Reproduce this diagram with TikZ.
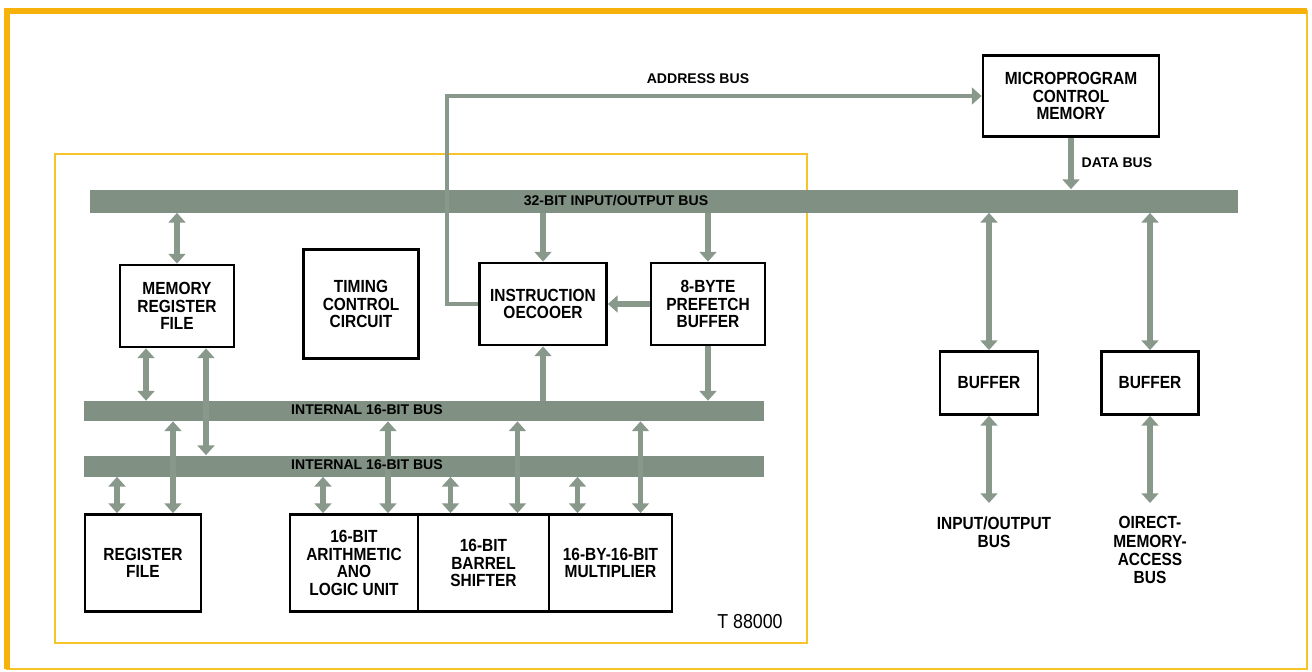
\documentclass[tikz,border=0pt]{standalone}
\usepackage{fontspec}
\setmainfont{Liberation Sans}
\newfontfamily\boxfont{Liberation Sans}[FakeStretch=0.88]
\usetikzlibrary{arrows.meta,calc}
\definecolor{busgray}{RGB}{128,144,130}
\definecolor{arrgray}{RGB}{136,152,138}
\definecolor{frameorange}{RGB}{246,178,10}
\definecolor{chipyellow}{RGB}{246,196,40}
\tikzset{
  block/.style={draw, line width=1.6pt, fill=white, align=center, inner sep=0pt,
    font=\boxfont\bfseries\fontsize{10}{10}\selectfont},
  bus/.style={fill=busgray, inner sep=0pt, minimum height=4mm},
  buslabel/.style={font=\bfseries\fontsize{8}{9}\selectfont},
  note/.style={align=center, font=\boxfont\bfseries\fontsize{10}{10.3}\selectfont},
  dbl/.style={draw=arrgray, line width=3.2pt,
    {Triangle[width=9.5pt,length=5.5pt]}-{Triangle[width=9.5pt,length=5.5pt]}},
  sgl/.style={draw=arrgray, line width=3.2pt, -{Triangle[width=9.5pt,length=5.5pt]}},
}
\begin{document}
\begin{tikzpicture}[x=0.2mm,y=-0.2mm]
\useasboundingbox (0,0) rectangle (1312,672);
\draw[chipyellow, line width=0.5mm] (7,11) rectangle (1307,669);
\draw[frameorange, line width=1.3mm] (7,669) -- (7,11) -- (1307,11);
\draw[chipyellow, line width=0.5mm] (55,154) rectangle (807,643);

% buses
\node[bus, minimum width=229.6mm, minimum height=4.6mm] (iobus) at (664,201) {};
\node[bus, minimum width=136mm] (ibus1) at (424,411) {};
\node[bus, minimum width=136mm, minimum height=4.2mm] (ibus2) at (424,466) {};

% blocks
\node[block, minimum width=22.8mm, minimum height=16.4mm] (mrf) at (177,306) {MEMORY\\REGISTER\\FILE};
\node[block, minimum width=23mm, minimum height=21.8mm] (tcc) at (361,304) {TIMING\\CONTROL\\CIRCUIT};
\node[block, minimum width=25.4mm, minimum height=16.4mm] (idec) at (543,304) {INSTRUCTION\\OECOOER};
\node[block, minimum width=22.8mm, minimum height=16.4mm] (pfb) at (708,304) {8-BYTE\\PREFETCH\\BUFFER};
\node[block, minimum width=35.2mm, minimum height=16.2mm] (mcm) at (1071,96) {MICROPROGRAM\\CONTROL\\MEMORY};
\node[block, minimum width=19.6mm, minimum height=12.6mm] (buf1) at (989,383) {BUFFER};
\node[block, minimum width=19.4mm, minimum height=12.6mm] (buf2) at (1150,383) {BUFFER};
\node[block, minimum width=23.2mm, minimum height=19.4mm] (rf) at (143,563) {REGISTER\\FILE};
\node[block, minimum width=25.6mm, minimum height=19.4mm] (alu) at (354,563) {16-BIT\\ARITHMETIC\\ANO\\LOGIC UNIT};
\node[block, minimum width=26.2mm, minimum height=19.4mm] (bsh) at (483.5,563) {16-BIT\\BARREL\\SHIFTER};
\node[block, minimum width=24.6mm, minimum height=19.4mm] (mul) at (610.5,563) {16-BY-16-BIT\\MULTIPLIER};

\coordinate (ioend) at (989,503);
\coordinate (dmaend) at (1150,503);

% connectors
\draw[sgl, line width=2.6pt] (idec.west) -- ++(-31,0) |- (mcm.west);
\draw[sgl] (mcm.south) -- (mcm.south |- iobus.north);
\draw[dbl] (iobus.south -| mrf.north) -- (mrf.north);
\path (mrf.south) ++(-31,0) coordinate (mrfl) (mrf.south) ++(29,0) coordinate (mrfr);
\draw[dbl] (mrfl) -- (mrfl |- ibus1.north);
\draw[dbl] (mrfr) -- (mrfr |- ibus2.north);
\draw[sgl] (iobus.south -| idec.north) -- (idec.north);
\draw[sgl] (idec.south |- ibus1.north) -- (idec.south);
\draw[sgl] (iobus.south -| pfb.north) -- (pfb.north);
\draw[sgl] (pfb.south) -- (pfb.south |- ibus1.north);
\draw[sgl] (pfb.west) -- (idec.east);
\foreach \b/\l/\r in {rf/-26/30, alu/-31/34, bsh/-33/34, mul/-33/30}{
  \path (\b.north) ++(\l,0) coordinate (lo) (\b.north) ++(\r,0) coordinate (hi);
  \draw[dbl] (lo |- ibus2.south) -- (lo);
  \draw[dbl] (hi |- ibus1.south) -- (hi);
}
\draw[dbl] (iobus.south -| buf1.north) -- (buf1.north);
\draw[dbl] (buf1.south) -- (ioend);
\draw[dbl] (iobus.south -| buf2.north) -- (buf2.north);
\draw[dbl] (buf2.south) -- (dmaend);

% labels
\node[buslabel] (iolbl) at (616,201) {32-BIT INPUT/OUTPUT BUS};
\node[buslabel] (in1lbl) at (367,410) {INTERNAL 16-BIT BUS};
\node[buslabel] (in2lbl) at (367,465) {INTERNAL 16-BIT BUS};
\node[buslabel] (adlbl) at (698,79) {ADDRESS BUS};
\node[buslabel] (dalbl) at (1117,163) {DATA BUS};
\node[note] (iobuslbl) at (994,532) {INPUT/OUTPUT\\BUS};
\node[note] (dmalbl) at (1150,550) {OIRECT-\\MEMORY-\\ACCESS\\BUS};
\node[font=\boxfont\fontsize{11.5}{12}\selectfont] (chiplbl) at (750,622) {T 88000};
\end{tikzpicture}
\end{document}
